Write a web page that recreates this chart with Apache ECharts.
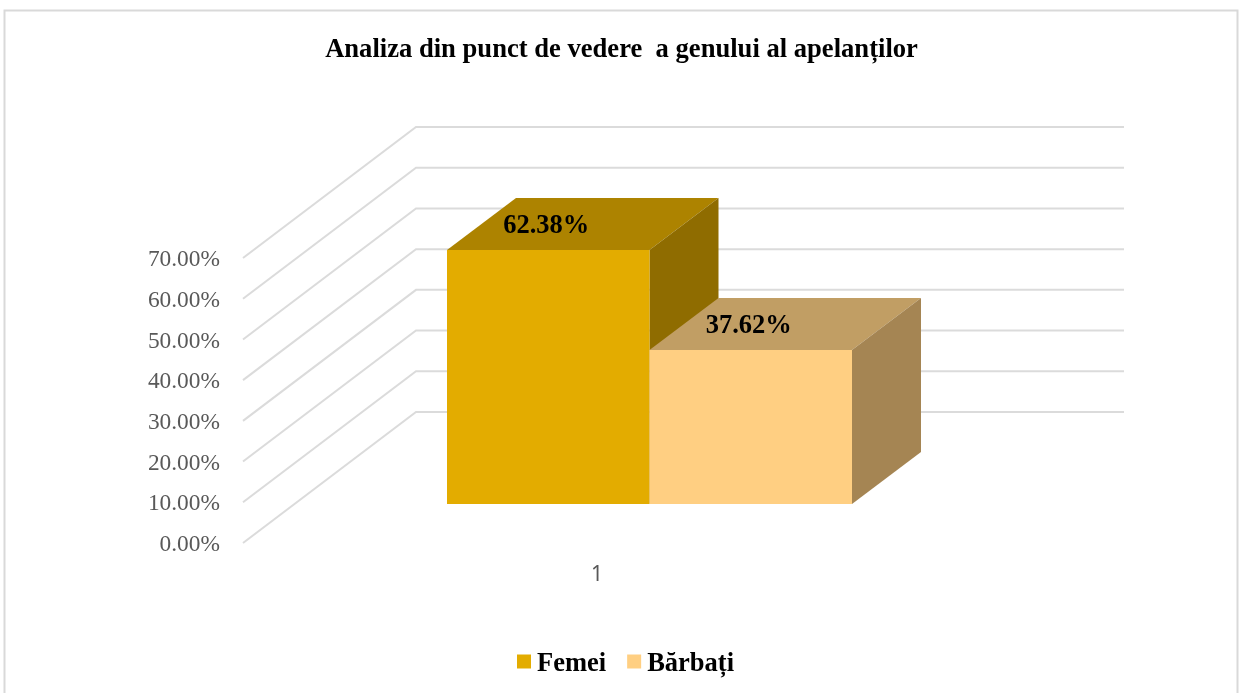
<!DOCTYPE html>
<html>
<head>
<meta charset="utf-8">
<title>Analiza genului</title>
<script src="https://cdn.jsdelivr.net/npm/echarts@6/dist/echarts.min.js"></script>
<style>
  html, body { margin: 0; padding: 0; background: #fff; overflow: hidden; }
  #chart { width: 1243px; height: 693px; }
</style>
</head>
<body>
<div id="chart"></div>
<script>
// date
var titleText = "Analiza din punct de vedere  a genului al apelanților";
var categories = ["1"];
var seriesNames = ["Femei", "Bărbați"];
var femei = [62.38];
var barbati = [37.62];
var yTicks = [0, 10, 20, 30, 40, 50, 60, 70];

// culori: fata, sus, lateral
var faceColors = ["#E3AC00", "#FFCF82"];
var topColors = ["#AD8300", "#C19E64"];
var sideColors = ["#8F6C00", "#A58553"];

var serifFont = "'Liberation Serif', 'Times New Roman', serif";
var wallDepth = [173, 131]; // adancimea peretilor 3D
var barDepth = [69, 52];
var barOffset = [52.5, 39.5]; // cat de in spate stau barele fata de marginea podelei
var barWidth = 202.5;

var myChart = echarts.init(document.getElementById("chart"));

// liniile de grid: perete lateral + perete din spate
function renderWall(params, api) {
  var grid = params.coordSys;
  var p = api.coord([0, api.value(0)]);
  return {
    type: "polyline",
    silent: true,
    shape: {
      points: [
        [grid.x, p[1]],
        [grid.x + wallDepth[0], p[1] - wallDepth[1]],
        [grid.x + grid.width + wallDepth[0], p[1] - wallDepth[1]],
      ],
    },
    style: { fill: "none", stroke: "#DBDBDB", lineWidth: 2 },
  };
}

function renderBar(index) {
  return function (params, api) {
    var top = api.coord([api.value(0), api.value(1)]);
    var base = api.coord([api.value(0), 0]);
    // bara 0 la stanga centrului, bara 1 la dreapta
    var x0 = top[0] + barOffset[0] + (index - 1) * barWidth;
    var x1 = x0 + barWidth;
    // rotunjit ca sa nu apara o linie la marginea fetei
    var yTop = Math.round(top[1] - barOffset[1]);
    var yBase = Math.round(base[1] - barOffset[1]);
    var dx = barDepth[0];
    var dy = barDepth[1];
    return {
      type: "group",
      children: [
        {
          type: "polygon",
          shape: { points: [[x0, yTop], [x1, yTop], [x1 + dx, yTop - dy], [x0 + dx, yTop - dy]] },
          style: { fill: topColors[index] },
        },
        {
          type: "polygon",
          shape: { points: [[x1, yTop], [x1 + dx, yTop - dy], [x1 + dx, yBase - dy], [x1, yBase]] },
          style: { fill: sideColors[index] },
        },
        {
          type: "rect",
          shape: { x: x0, y: yTop, width: barWidth, height: yBase - yTop },
          style: { fill: faceColors[index] },
        },
        {
          type: "text",
          x: (x0 + x1) / 2 - 2,
          y: yTop - 23.5,
          style: {
            text: api.value(1).toFixed(2) + "%",
            fill: "#000",
            font: "bold 26.5px " + serifFont,
            align: "center",
            verticalAlign: "middle",
          },
        },
      ],
    };
  };
}

var option = {
  animation: false,
  backgroundColor: "#fff",
  title: {
    text: titleText,
    left: "center",
    top: 32,
    textStyle: {
      fontFamily: serifFont,
      fontWeight: "bold",
      fontSize: 26.6,
      color: "#000",
    },
  },
  legend: {
    left: 517,
    top: 651,
    padding: 0,
    itemWidth: 14,
    itemHeight: 14,
    itemGap: 21,
    icon: "rect",
    data: seriesNames,
    formatter: "{t|{name}}",
    textStyle: {
      rich: {
        // padding-ul de sus coboara textul fata de patratel
        t: {
          fontFamily: serifFont,
          fontWeight: "bold",
          fontSize: 26.5,
          color: "#000",
          padding: [6, 0, 0, 1],
        },
      },
    },
  },
  grid: {
    left: 243,
    top: 258,
    width: 708,
    bottom: 150,
  },
  xAxis: {
    type: "category",
    data: categories,
    axisLine: { show: false },
    axisTick: { show: false },
    axisLabel: {
      margin: 22,
      fontFamily: "'Noto Sans', sans-serif",
      fontSize: 21,
      color: "#595959",
    },
  },
  yAxis: {
    type: "value",
    min: 0,
    max: 70,
    interval: 10,
    axisLine: { show: false },
    axisTick: { show: false },
    splitLine: { show: false },
    axisLabel: {
      margin: 23,
      formatter: function (v) {
        return "{t|" + v.toFixed(2) + "%}";
      },
      rich: {
        t: {
          fontFamily: serifFont,
          fontSize: 23.4,
          color: "#595959",
          padding: [4, 0, 0, 0],
        },
      },
    },
  },
  graphic: [
    {
      type: "rect",
      silent: true,
      shape: { x: 4.5, y: 10.5, width: 1233, height: 700 },
      style: { fill: "none", stroke: "#D9D9D9", lineWidth: 2 },
    },
  ],
  series: [
    {
      type: "custom",
      name: "grid",
      silent: true,
      clip: false,
      renderItem: renderWall,
      encode: { y: 0 },
      data: yTicks,
      z: 1,
    },
    {
      type: "custom",
      name: seriesNames[0],
      clip: false,
      renderItem: renderBar(0),
      itemStyle: { color: faceColors[0] },
      encode: { x: 0, y: 1 },
      data: femei.map(function (v, i) { return [i, v]; }),
      z: 2,
    },
    {
      type: "custom",
      name: seriesNames[1],
      clip: false,
      renderItem: renderBar(1),
      itemStyle: { color: faceColors[1] },
      encode: { x: 0, y: 1 },
      data: barbati.map(function (v, i) { return [i, v]; }),
      z: 3,
    },
  ],
};

myChart.setOption(option);
window.addEventListener("resize", function () {
  myChart.resize();
});
</script>
</body>
</html>
